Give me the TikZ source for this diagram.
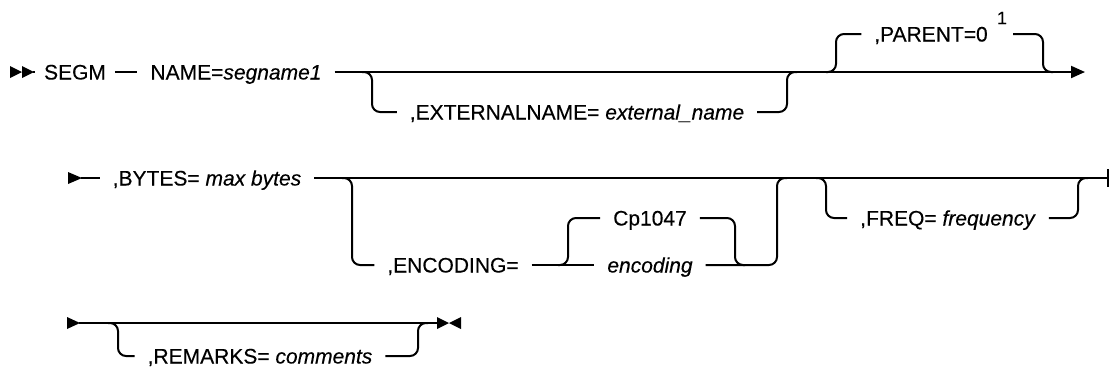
\documentclass[tikz,border=0pt]{standalone}
\usepackage{fontspec}
\setmainfont[FakeBold=0.3]{Liberation Sans}
\usetikzlibrary{arrows.meta}
\begin{document}
\begin{tikzpicture}[x=1pt,y=-1pt,line width=2pt,
  rr/.style={rounded corners=8pt},
  lbl/.style={inner xsep=12pt, inner ysep=0pt, text height=15pt, text depth=0pt,
              font=\fontsize{21}{24}\selectfont},
  tipfill/.style={fill=black}]
\useasboundingbox (0,0) rectangle (1110,373);

% ---------- row 1 ----------
\node[lbl,inner xsep=8pt] (segm) at (75,72) {SEGM};
\node[lbl] (name) at (236,72) {NAME=\textit{segname1}};
\node[lbl] (ext) at (577,112) {,EXTERNALNAME= \textit{external\_name}};
\node[lbl] (parent) at (931,34) {,PARENT=0};
\node[inner sep=0pt, font=\fontsize{18}{18}\selectfont] (fn) at (1002,18) {1};
\coordinate (pr) at (1013,34);

\fill[tipfill] (10,66) -- (22,72) -- (10,78) -- cycle;
\fill[tipfill] (22,66) -- (34,72) -- (22,78) -- cycle;
\coordinate (st1) at (33,72);
\coordinate (e1) at (1085,72);
\draw (st1) -- (segm.west);
\draw (segm.east) -- (name.west);
\draw[-{Triangle[length=14pt,width=12pt]}] (name.east) -- (e1);
\draw[rr] (362,72) -| (372,112) -- (ext.west);
\draw[rr] (ext.east) -| (787,72) -- (797,72);
\draw[rr] (826,72) -| (836,34) -- (parent.west);
\draw[rr] (pr) -| (1043,72) -- (1053,72);

% ---------- row 2 ----------
\node[lbl] (bytes) at (207,178) {,BYTES= \textit{max bytes}};
\node[lbl] (enc) at (453,265) {,ENCODING=};
\node[lbl] (cp) at (650,218) {Cp1047};
\node[lbl] (encit) at (650,265) {\textit{encoding}};
\node[lbl] (freq) at (948,218) {,FREQ= \textit{frequency}};

\fill[tipfill] (68,172) -- (82,178) -- (68,184) -- cycle;
\coordinate (st2) at (81,178);
\coordinate (e2) at (1108,178);
\draw (st2) -- (bytes.west);
\draw (bytes.east) -- (e2);
\draw (e2) ++(0,-9) -- ++(0,18);
\draw[rr] (342,178) -| (352,265) -- (enc.west);
\draw (enc.east) -- (encit.west);
\draw[rr] (558,265) -| (568,218) -- (cp.west);
\draw[rr] (cp.east) -| (735,265) -- (745,265);
\draw[rr] (encit.east) -| (777,178) -- (787,178);
\draw[rr] (816,178) -| (826,218) -- (freq.west);
\draw[rr] (freq.east) -| (1078,178) -- (1088,178);

% ---------- row 3 ----------
\node[lbl] (rem) at (260,356) {,REMARKS= \textit{comments}};

\fill[tipfill] (67,317) -- (80,323) -- (67,329) -- cycle;
\coordinate (st3) at (79,323);
\coordinate (e3) at (438,323);
\draw (st3) -- (e3);
\fill[tipfill] (437,317) -- (449,323) -- (437,329) -- cycle;
\fill[tipfill] (461,317) -- (449,323) -- (461,329) -- cycle;
\draw[rr] (108,323) -| (118,356) -- (rem.west);
\draw[rr] (rem.east) -| (418,323) -- (428,323);
\end{tikzpicture}
\end{document}
